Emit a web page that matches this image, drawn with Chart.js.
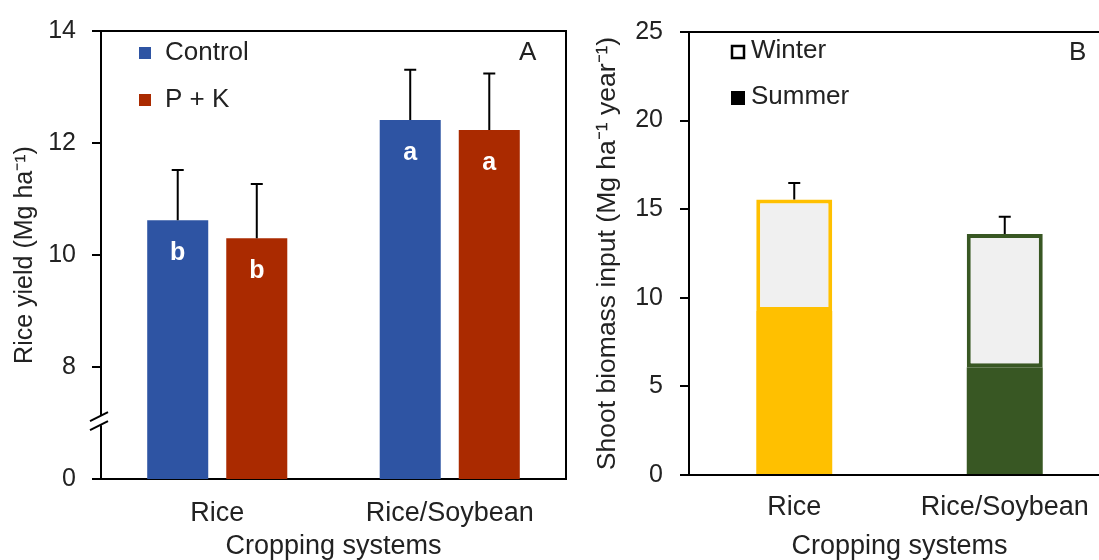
<!DOCTYPE html>
<html>
<head>
<meta charset="utf-8">
<script src="https://cdn.jsdelivr.net/npm/chart.js@4.4.1/dist/chart.umd.min.js"></script>
<style>
    html, body { margin: 0; padding: 0; background: #fff; overflow: hidden; width: 1099px; height: 560px; }
    #yieldCanvas { position: absolute; left: 0; top: 0; }
    #biomassCanvas { position: absolute; left: 580px; top: 0; }
</style>
</head>
<body>
<canvas id="yieldCanvas" width="580" height="560"></canvas>
<canvas id="biomassCanvas" width="560" height="560"></canvas>
<script>
// cropping systems (x categories, both panels)
const systems = ["Rice", "Rice/Soybean"];

// panel A - rice yield, Mg/ha
const controlYield = [10.62, 12.41];
const pkYield = [10.30, 12.23];
const controlSd = [0.90, 0.90];
const pkSd = [0.97, 1.01];
const controlLetters = ["b", "a"];
const pkLetters = ["b", "a"];
const yieldBreakLabel = "0";   // axis is broken below 8

// panel B - shoot biomass input, Mg/ha/year
const summerBiomass = [9.25, 6.08];
const winterBiomass = [6.30, 7.52];
const biomassSd = [0.93, 0.98];

const textColor = "#222";
const systemColors = ["#FFC000", "#385723"];

var yieldChart, biomassChart;

Chart.defaults.font.family = '"Liberation Sans", Arial, sans-serif';
Chart.defaults.font.size = 25;
Chart.defaults.color = textColor;

// top + right frame lines
const boxPlugin = {
    id: "box",
    afterDraw(chart) {
        const {ctx, chartArea} = chart;
        ctx.save();
        ctx.strokeStyle = "#000";
        ctx.lineWidth = 2;
        ctx.beginPath();
        ctx.moveTo(chartArea.left, chartArea.top);
        ctx.lineTo(chartArea.right, chartArea.top);
        ctx.lineTo(chartArea.right, chartArea.bottom);
        ctx.stroke();
        ctx.restore();
    }
};

initCharts();

function drawErrorBar(ctx, x, yBar, yTop){
    ctx.beginPath();
    ctx.moveTo(x, yBar);
    ctx.lineTo(x, yTop);
    ctx.moveTo(x - 6, yTop);
    ctx.lineTo(x + 6, yTop);
    ctx.stroke();
}

function drawLegendText(ctx, text, x, y){
    ctx.fillStyle = textColor;
    ctx.font = '26px "Liberation Sans", Arial, sans-serif';
    ctx.textAlign = "left";
    ctx.textBaseline = "middle";
    ctx.fillText(text, x, y);
}

function initCharts(){
    const yieldExtras = {
        id: "yieldExtras",
        afterDatasetsDraw(chart) {
            const {ctx} = chart;
            const yScale = chart.scales.y;
            const sds = [controlSd, pkSd];
            const letters = [controlLetters, pkLetters];
            ctx.save();
            ctx.strokeStyle = "#000";
            ctx.lineWidth = 2;
            chart.data.datasets.forEach((ds, d) => {
                chart.getDatasetMeta(d).data.forEach((bar, i) => {
                    const top = yScale.getPixelForValue(ds.data[i] + sds[d][i]);
                    drawErrorBar(ctx, bar.x, bar.y, top);

                    ctx.fillStyle = "#fff";
                    ctx.font = 'bold 25px "Liberation Sans", Arial, sans-serif';
                    ctx.textAlign = "center";
                    ctx.textBaseline = "middle";
                    ctx.fillText(letters[d][i], bar.x, bar.y + 33);
                });
            });
            ctx.restore();
        },
        afterDraw(chart) {
            const {ctx, chartArea} = chart;
            const yScale = chart.scales.y;
            ctx.save();

            // axis break between 0 and 8
            const yb = yScale.getPixelForValue(7.05);
            const x = chartArea.left;
            ctx.fillStyle = "#fff";
            ctx.fillRect(x - 3, yb - 5, 6, 10);
            ctx.strokeStyle = "#000";
            ctx.lineWidth = 2;
            ctx.beginPath();
            ctx.moveTo(x - 11, yb + 1);
            ctx.lineTo(x + 7, yb - 8);
            ctx.moveTo(x - 11, yb + 10);
            ctx.lineTo(x + 7, yb + 1);
            ctx.stroke();

            // legend
            const ys = [53, 100];
            chart.data.datasets.forEach((ds, d) => {
                ctx.fillStyle = ds.backgroundColor;
                ctx.fillRect(139, ys[d] - 6, 12, 12);
                drawLegendText(ctx, ds.label, 165, ys[d]);
            });

            drawLegendText(ctx, "A", 519, 53);
            ctx.restore();
        }
    };

    yieldChart = new Chart(document.getElementById("yieldCanvas"), {
        type: "bar",
        data: {
            labels: systems,
            datasets: [
                { label: "Control", data: controlYield, backgroundColor: "#2E54A3" },
                { label: "P + K", data: pkYield, backgroundColor: "#AA2A00" }
            ]
        },
        options: {
            responsive: false,
            animation: false,
            layout: { padding: { left: 0, top: 27, right: 14, bottom: 0 } },
            datasets: { bar: { categoryPercentage: 0.68, barPercentage: 0.772 } },
            plugins: { legend: { display: false }, tooltip: { enabled: false } },
            scales: {
                x: {
                    grid: { display: false, drawTicks: false },
                    border: { color: "#000", width: 2 },
                    ticks: { padding: 18, font: { size: 27 } },
                    title: { display: true, text: "Cropping systems", font: { size: 27, lineHeight: 1 }, padding: 0 },
                    afterFit: (s) => { s.height = 81; }
                },
                y: {
                    min: 6,
                    max: 14,
                    ticks: { stepSize: 2, padding: 16, callback: (v) => v === 6 ? yieldBreakLabel : v },
                    grid: { drawOnChartArea: false, tickLength: 9, color: "#000", lineWidth: 2 },
                    border: { color: "#000", width: 2 },
                    title: { display: true, text: "Rice yield (Mg ha\u207B\u00B9)", padding: { top: 10, bottom: 0 } },
                    afterFit: (s) => { s.width = 101; }
                }
            }
        },
        plugins: [boxPlugin, yieldExtras]
    });

    const biomassExtras = {
        id: "biomassExtras",
        afterDatasetsDraw(chart) {
            const {ctx} = chart;
            const yScale = chart.scales.y;
            ctx.save();
            ctx.strokeStyle = "#000";
            ctx.lineWidth = 2;
            chart.getDatasetMeta(1).data.forEach((bar, i) => {
                const total = summerBiomass[i] + winterBiomass[i];
                drawErrorBar(ctx, bar.x, bar.y, yScale.getPixelForValue(total + biomassSd[i]));
            });
            ctx.restore();
        },
        afterDraw(chart) {
            const {ctx} = chart;
            ctx.save();
            // legend: winter = open square, summer = filled square
            ctx.fillStyle = "#fff";
            ctx.fillRect(151, 45, 14, 14);
            ctx.strokeStyle = "#000";
            ctx.lineWidth = 2.5;
            ctx.strokeRect(152, 46, 12, 12);
            ctx.fillStyle = "#000";
            ctx.fillRect(151, 91, 14, 14);
            drawLegendText(ctx, "Winter", 171, 51);
            drawLegendText(ctx, "Summer", 171, 97);
            drawLegendText(ctx, "B", 489, 53);
            ctx.restore();
        }
    };

    biomassChart = new Chart(document.getElementById("biomassCanvas"), {
        type: "bar",
        data: {
            labels: systems,
            datasets: [
                { label: "Summer", data: summerBiomass, backgroundColor: systemColors, borderWidth: 0 },
                { label: "Winter", data: winterBiomass, backgroundColor: "#F0F0F0", borderColor: systemColors, borderWidth: 4, borderSkipped: false }
            ]
        },
        options: {
            responsive: false,
            animation: false,
            layout: { padding: { left: 0, top: 27, right: 30, bottom: 0 } },
            datasets: { bar: { categoryPercentage: 1, barPercentage: 0.361 } },
            plugins: { legend: { display: false }, tooltip: { enabled: false } },
            scales: {
                x: {
                    stacked: true,
                    grid: { display: false, drawTicks: false },
                    border: { color: "#000", width: 2 },
                    ticks: { padding: 16, font: { size: 27 } },
                    title: { display: true, text: "Cropping systems", font: { size: 27, lineHeight: 1 }, padding: 0 },
                    afterFit: (s) => { s.height = 85; }
                },
                y: {
                    stacked: true,
                    min: 0,
                    max: 25,
                    ticks: { stepSize: 5, padding: 17 },
                    grid: { drawOnChartArea: false, tickLength: 9, color: "#000", lineWidth: 2 },
                    border: { color: "#000", width: 2 },
                    title: { display: true, text: "Shoot biomass input (Mg ha\u207B\u00B9 year\u207B\u00B9)", font: { size: 26.5 }, padding: { top: 12, bottom: 0 } },
                    afterFit: (s) => { s.width = 109; }
                }
            }
        },
        plugins: [boxPlugin, biomassExtras]
    });
}
</script>
</body>
</html>
